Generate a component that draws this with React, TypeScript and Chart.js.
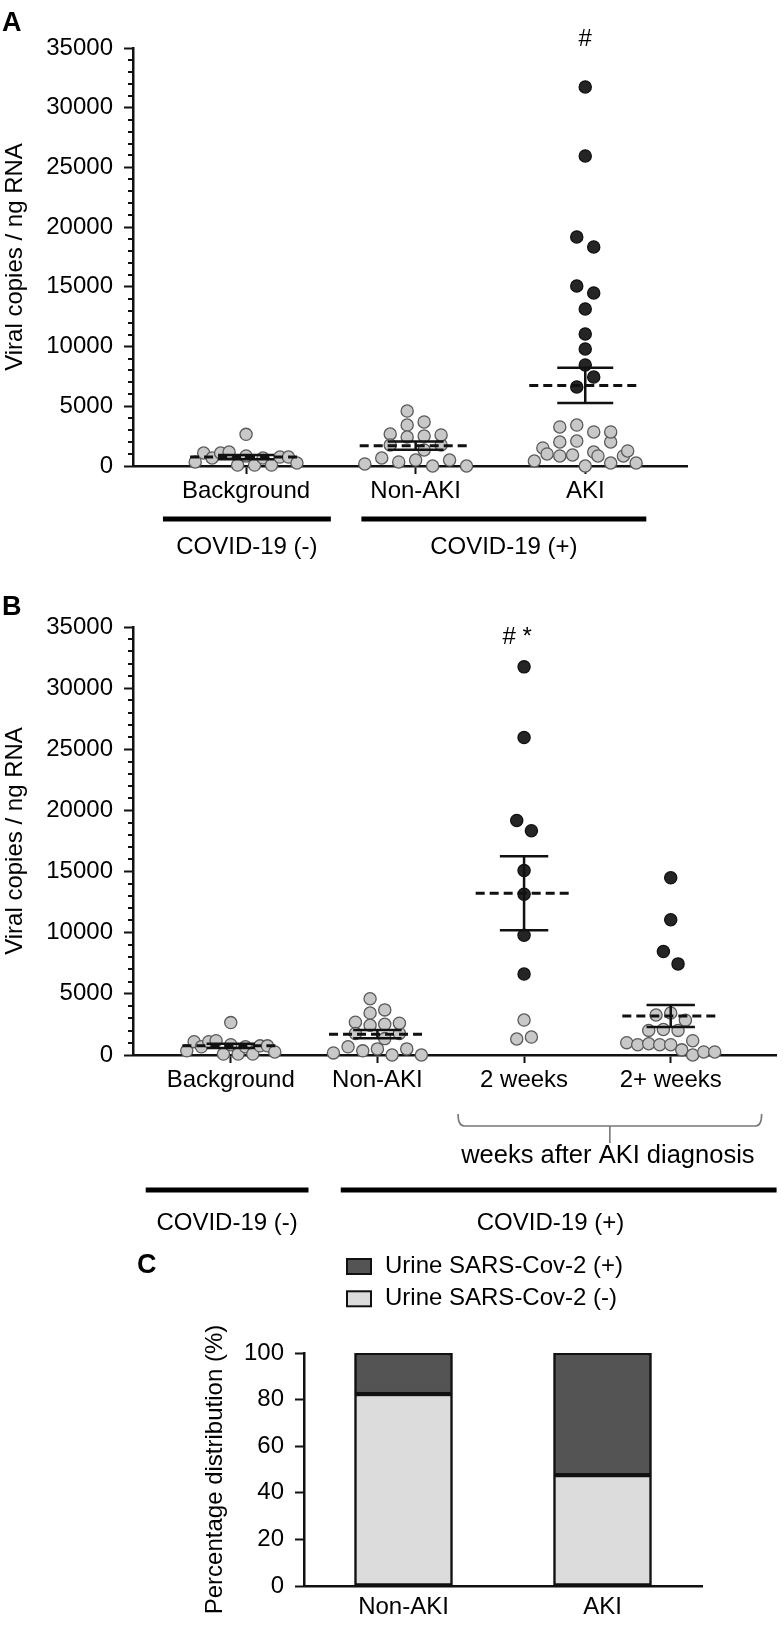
import React, { useEffect, useRef } from 'react';
import { Chart, registerables } from 'chart.js';

Chart.register(...registerables);

// ---------------- data ----------------
// Panel A: viral copies / ng RNA per group (left-to-right order)
const categoriesA = ['Background', 'Non-AKI', 'AKI'];
const backgroundCopies = [340, 1090, 670, 1090, 1170, 80, 2650, 840, 80, 670, 80, 750, 750, 250];
const nonAkiCopies = [2680, 170, 3430, 1760, 670, 4600, 2430, 340, 3690, 2510, 500, 1340, 0, 1760, 500, 2600, 0];
const akiHighCopies = [31740, 25960, 19180, 18340, 15080, 14490, 13150, 11060, 9800, 8460, 6620, 7450];
const akiLowCopies = [1510, 420, 1010, 2010, 840, 3270, 920, 3430, 2090, 1170, 0, 2850, 840, 2010, 250, 2850, 840, 1260, 250];

// Panel B: AKI split by weeks after AKI diagnosis
const categoriesB = ['Background', 'Non-AKI', '2 weeks', '2+ weeks'];
const twoWeeksHighCopies = [31740, 25960, 19180, 18340, 15080, 13150, 9800, 6620];
const twoWeeksLowCopies = [2860, 1310, 1470];
const laterHighCopies = [14490, 11060, 8460, 7450];
const laterLowCopies = [3270, 3430, 2850, 2010, 2090, 2010, 1170, 1010, 840, 920, 840, 840, 420, 0, 250, 250];

// shared viral axis
const viralMax = 35000;
const viralMajorStep = 5000;
const viralMinorStep = 1000;

// Panel C: percentage distribution
const categoriesC = ['Non-AKI', 'AKI'];
const urinePositivePct = [17.6, 52.4];
const urineNegativePct = [82.4, 47.6];
const pctMax = 100;
const pctStep = 20;

// ---------------- styles ----------------
const FONT = '"Liberation Sans", Arial, Helvetica, sans-serif';
const INK = '#111111';
const GREY_FILL = '#c8c8c8';
const GREY_EDGE = '#5a5a5a';
const DARK_FILL = '#252525';
const DARK_EDGE = '#111111';
const BAR_LIGHT = '#dcdcdc';
const BAR_DARK = '#545454';

const COL_STEP = 0.1; // x-units between swarm columns
const HALF_WIDTH = 0.3; // max half width of a swarm row (x-units)
const ROW_PX = 13.5; // vertical size of a swarm row (px)
const MEAN_HALF = 0.33;
const CAP_HALF = 0.165;

const f = (size: number, weight: any = 'normal') => ({ family: FONT, size, weight });

type Series = { label: string; group: number; values: number[]; dark: boolean };

function scatterDatasets(series: Series[]) {
  return series.map((s) => ({
    label: s.label,
    swarmGroup: s.group,
    data: s.values.map((v) => ({ x: s.group, y: v })),
    pointRadius: 6.1,
    pointBorderWidth: 1.3,
    pointBackgroundColor: s.dark ? DARK_FILL : GREY_FILL,
    pointBorderColor: s.dark ? DARK_EDGE : GREY_EDGE,
    backgroundColor: s.dark ? DARK_FILL : GREY_FILL,
    borderColor: s.dark ? DARK_EDGE : GREY_EDGE,
    showLine: false,
    clip: false,
  }));
}

// Prism-like scatter layout: rows by value, points spread symmetrically inside a row
function swarm(chart: any) {
  const y = chart.scales.y;
  const pxPer = Math.abs(y.getPixelForValue(viralMajorStep) - y.getPixelForValue(0)) / viralMajorStep;
  const rowSpan = ROW_PX / pxPer;
  const byGroup = new Map<number, any[]>();
  let order = 0;
  chart.data.datasets.forEach((ds: any) => {
    if (ds.swarmGroup === undefined) return;
    ds.data = ds.data.map((p: any) => ({ x: p.x, y: p.y }));
    ds.data.forEach((p: any) => {
      if (!byGroup.has(ds.swarmGroup)) byGroup.set(ds.swarmGroup, []);
      byGroup.get(ds.swarmGroup)!.push({ p, v: p.y, k: order++ });
    });
  });
  byGroup.forEach((items, g) => {
    const sorted = items.slice().sort((a, b) => a.v - b.v || a.k - b.k);
    const rows: any[][] = [];
    let start = 0;
    sorted.forEach((it) => {
      if (!rows.length || it.v - start > rowSpan) {
        rows.push([]);
        start = it.v;
      }
      rows[rows.length - 1].push(it);
    });
    rows.forEach((row) => {
      row.sort((a, b) => a.k - b.k);
      const n = row.length;
      const step = n > 1 ? Math.min(COL_STEP, (2 * HALF_WIDTH) / (n - 1)) : 0;
      row.forEach((it, j) => {
        it.p.x = g + (j - (n - 1) / 2) * step;
      });
    });
  });
}

const meanSemPlugin = {
  id: 'meanSem',
  afterDatasetsDraw(chart: any) {
    const { ctx } = chart;
    const x = chart.scales.x;
    const y = chart.scales.y;
    const groups = new Map<number, number[]>();
    chart.data.datasets.forEach((ds: any) => {
      if (ds.swarmGroup === undefined) return;
      if (!groups.has(ds.swarmGroup)) groups.set(ds.swarmGroup, []);
      ds.data.forEach((p: any) => groups.get(ds.swarmGroup)!.push(p.y));
    });
    groups.forEach((vals, g) => {
      const n = vals.length;
      const mean = vals.reduce((a, b) => a + b, 0) / n;
      const sd = Math.sqrt(vals.reduce((a, b) => a + (b - mean) * (b - mean), 0) / (n - 1));
      const sem = sd / Math.sqrt(n);
      const cx = x.getPixelForValue(g);
      const yHi = y.getPixelForValue(mean + sem);
      const yLo = y.getPixelForValue(mean - sem);
      const yM = y.getPixelForValue(mean);
      ctx.save();
      ctx.strokeStyle = INK;
      ctx.lineWidth = 2.5;
      ctx.beginPath();
      ctx.moveTo(cx, yHi);
      ctx.lineTo(cx, yLo);
      ctx.moveTo(x.getPixelForValue(g - CAP_HALF), yHi);
      ctx.lineTo(x.getPixelForValue(g + CAP_HALF), yHi);
      ctx.moveTo(x.getPixelForValue(g - CAP_HALF), yLo);
      ctx.lineTo(x.getPixelForValue(g + CAP_HALF), yLo);
      ctx.stroke();
      ctx.lineWidth = 3;
      ctx.setLineDash([9, 5]);
      ctx.beginPath();
      ctx.moveTo(x.getPixelForValue(g - MEAN_HALF), yM);
      ctx.lineTo(x.getPixelForValue(g + MEAN_HALF), yM);
      ctx.stroke();
      ctx.restore();
    });
  },
};

const minorTicksPlugin = {
  id: 'minorTicks',
  afterDraw(chart: any) {
    const { ctx } = chart;
    const y = chart.scales.y;
    ctx.save();
    ctx.strokeStyle = INK;
    ctx.lineWidth = 2;
    ctx.beginPath();
    for (let v = viralMinorStep; v < viralMax; v += viralMinorStep) {
      if (v % viralMajorStep === 0) continue;
      const py = Math.round(y.getPixelForValue(v));
      ctx.moveTo(y.right - 5, py);
      ctx.lineTo(y.right, py);
    }
    ctx.stroke();
    ctx.restore();
  },
};

function drawGroupBar(ctx: any, x: any, from: number, to: number, y: number, label: string, labelY: number, labelAt?: number) {
  const x0 = x.getPixelForValue(from);
  const x1 = x.getPixelForValue(to);
  ctx.save();
  ctx.strokeStyle = '#000';
  ctx.lineWidth = 5;
  ctx.beginPath();
  ctx.moveTo(x0, y);
  ctx.lineTo(x1, y);
  ctx.stroke();
  ctx.fillStyle = '#000';
  ctx.font = `24px ${FONT}`;
  ctx.textAlign = 'center';
  ctx.textBaseline = 'middle';
  const lx = labelAt !== undefined ? x.getPixelForValue(labelAt) : (x0 + x1) / 2;
  ctx.fillText(label, lx, labelY);
  ctx.restore();
}

function panelLetter(ctx: any, letter: string, px: number, baseline: number) {
  ctx.save();
  ctx.fillStyle = '#000';
  ctx.font = `bold 27px ${FONT}`;
  ctx.textAlign = 'left';
  ctx.textBaseline = 'alphabetic';
  ctx.fillText(letter, px, baseline);
  ctx.restore();
}

const panelAExtras = {
  id: 'panelAExtras',
  afterDraw(chart: any) {
    const { ctx, chartArea } = chart;
    const x = chart.scales.x;
    panelLetter(ctx, 'A', 2, 31);
    ctx.save();
    ctx.fillStyle = '#000';
    ctx.font = `24px ${FONT}`;
    ctx.textAlign = 'center';
    ctx.textBaseline = 'middle';
    ctx.fillText('#', x.getPixelForValue(3), chartArea.top - 9);
    ctx.restore();
    drawGroupBar(ctx, x, 0.51, 1.5, 519, 'COVID-19 (-)', 547);
    drawGroupBar(ctx, x, 1.68, 3.36, 519, 'COVID-19 (+)', 547);
  },
};

const panelBExtras = {
  id: 'panelBExtras',
  afterDraw(chart: any) {
    const { ctx, chartArea } = chart;
    const x = chart.scales.x;
    panelLetter(ctx, 'B', 2, 35);
    ctx.save();
    ctx.fillStyle = '#000';
    ctx.font = `24px ${FONT}`;
    ctx.textAlign = 'center';
    ctx.textBaseline = 'middle';
    ctx.fillText('# *', x.getPixelForValue(3) - 7, chartArea.top + 10);
    // bracket under the two AKI sub-groups
    const bl = x.getPixelForValue(2.55);
    const br = x.getPixelForValue(4.62);
    const bc = (bl + br) / 2;
    const top = 534;
    const hy = 546;
    ctx.strokeStyle = '#777';
    ctx.lineWidth = 1.6;
    ctx.beginPath();
    ctx.moveTo(bl, top);
    ctx.quadraticCurveTo(bl, hy, bl + 6, hy);
    ctx.lineTo(br - 6, hy);
    ctx.quadraticCurveTo(br, hy, br, top);
    ctx.moveTo(bc, hy);
    ctx.lineTo(bc, 563);
    ctx.stroke();
    ctx.font = `25.5px ${FONT}`;
    ctx.fillText('weeks after AKI diagnosis', bc - 2, 576);
    ctx.restore();
    drawGroupBar(ctx, x, 0.42, 1.53, 610, 'COVID-19 (-)', 643);
    drawGroupBar(ctx, x, 1.75, 4.722, 610, 'COVID-19 (+)', 643, 3.18);
  },
};

const panelCExtras = {
  id: 'panelCExtras',
  afterDraw(chart: any) {
    const { ctx } = chart;
    panelLetter(ctx, 'C', 137, 33);
    const items = chart.data.datasets.slice().reverse();
    const rows = [26.5, 58.8];
    ctx.save();
    items.forEach((ds: any, i: number) => {
      const cy = rows[i];
      ctx.fillStyle = ds.backgroundColor;
      ctx.fillRect(347, cy - 7.5, 24, 15);
      ctx.strokeStyle = INK;
      ctx.lineWidth = 2;
      ctx.strokeRect(347, cy - 7.5, 24, 15);
      ctx.fillStyle = '#000';
      ctx.font = `24px ${FONT}`;
      ctx.textAlign = 'left';
      ctx.textBaseline = 'middle';
      ctx.fillText(ds.label, 385, cy);
    });
    ctx.restore();
  },
};

function viralConfig(opts: {
  series: Series[];
  categories: string[];
  xMax: number;
  padTop: number;
  padRight: number;
  padBottom: number;
  xHeight: number;
  labelPad: number;
  extras: any;
}) {
  const { series, categories, xMax, padTop, padRight, padBottom, xHeight, labelPad, extras } = opts;
  return {
    type: 'scatter',
    data: { datasets: scatterDatasets(series) },
    options: {
      responsive: false,
      animation: false,
      events: [],
      layout: { padding: { left: 0, top: padTop, right: padRight, bottom: padBottom } },
      plugins: { legend: { display: false }, tooltip: { enabled: false } },
      scales: {
        x: {
          type: 'linear',
          min: 1 / 3,
          max: xMax,
          afterFit: (s: any) => {
            s.height = xHeight;
          },
          afterBuildTicks: (s: any) => {
            s.ticks = categories.map((_, i) => ({ value: i + 1 }));
          },
          ticks: {
            callback: (v: any) => categories[Math.round(v) - 1] ?? '',
            autoSkip: false,
            maxRotation: 0,
            minRotation: 0,
            padding: labelPad,
            font: f(24),
            color: '#000',
          },
          grid: { drawOnChartArea: false, drawTicks: true, tickLength: 8, tickWidth: 2, tickColor: INK },
          border: { display: true, color: INK, width: 2.5 },
        },
        y: {
          min: 0,
          max: viralMax,
          afterFit: (s: any) => {
            s.width = 133;
          },
          ticks: {
            stepSize: viralMajorStep,
            callback: (v: any) => String(v),
            padding: 11,
            font: f(24),
            color: '#000',
          },
          grid: { drawOnChartArea: false, drawTicks: true, tickLength: 9, tickWidth: 2, tickColor: INK },
          border: { display: true, color: INK, width: 2.5 },
          title: {
            display: true,
            text: 'Viral copies / ng RNA',
            font: f(24),
            color: '#000',
            padding: { top: 1, bottom: 0 },
          },
        },
      },
    },
    plugins: [meanSemPlugin, minorTicksPlugin, extras],
  };
}

export default function App() {
  const aRef = useRef<HTMLCanvasElement>(null);
  const bRef = useRef<HTMLCanvasElement>(null);
  const cRef = useRef<HTMLCanvasElement>(null);

  useEffect(() => {
    const chartA = new Chart(
      aRef.current as any,
      viralConfig({
        series: [
          { label: 'Background', group: 1, values: backgroundCopies, dark: false },
          { label: 'Non-AKI', group: 2, values: nonAkiCopies, dark: false },
          { label: 'AKI (high)', group: 3, values: akiHighCopies, dark: true },
          { label: 'AKI (low)', group: 3, values: akiLowCopies, dark: false },
        ],
        categories: categoriesA,
        xMax: 3.6,
        padTop: 48,
        padRight: 97,
        padBottom: 14,
        xHeight: 100,
        labelPad: 3,
        extras: panelAExtras,
      }) as any
    );
    swarm(chartA);
    chartA.update();

    const chartB = new Chart(
      bRef.current as any,
      viralConfig({
        series: [
          { label: 'Background', group: 1, values: backgroundCopies, dark: false },
          { label: 'Non-AKI', group: 2, values: nonAkiCopies, dark: false },
          { label: '2 weeks (high)', group: 3, values: twoWeeksHighCopies, dark: true },
          { label: '2 weeks (low)', group: 3, values: twoWeeksLowCopies, dark: false },
          { label: '2+ weeks (high)', group: 4, values: laterHighCopies, dark: true },
          { label: '2+ weeks (low)', group: 4, values: laterLowCopies, dark: false },
        ],
        categories: categoriesB,
        xMax: 4.722,
        padTop: 47,
        padRight: 1,
        padBottom: 35,
        xHeight: 150,
        labelPad: 3,
        extras: panelBExtras,
      }) as any
    );
    swarm(chartB);
    chartB.update();

    const chartC = new Chart(cRef.current as any, {
      type: 'bar',
      data: {
        labels: categoriesC,
        datasets: [
          {
            label: 'Urine SARS-Cov-2 (-)',
            data: urineNegativePct,
            backgroundColor: BAR_LIGHT,
            borderColor: INK,
            borderWidth: 2.5,
            borderSkipped: false,
            barThickness: 98,
          },
          {
            label: 'Urine SARS-Cov-2 (+)',
            data: urinePositivePct,
            backgroundColor: BAR_DARK,
            borderColor: INK,
            borderWidth: 2.5,
            borderSkipped: false,
            barThickness: 98,
          },
        ],
      },
      options: {
        responsive: false,
        animation: false,
        events: [],
        layout: { padding: { left: 0, top: 113, right: 82, bottom: 0 } },
        plugins: { legend: { display: false }, tooltip: { enabled: false } },
        scales: {
          x: {
            stacked: true,
            offset: true,
            afterFit: (s: any) => {
              s.height = 40;
            },
            grid: { drawOnChartArea: false, drawTicks: false },
            border: { display: true, color: INK, width: 2.5 },
            ticks: { font: f(24), color: '#000', padding: 6.6 },
          },
          y: {
            stacked: true,
            min: 0,
            max: pctMax,
            afterFit: (s: any) => {
              s.width = 304;
            },
            ticks: { stepSize: pctStep, padding: 11, font: f(24), color: '#000', callback: (v: any) => String(v) },
            grid: { drawOnChartArea: false, drawTicks: true, tickLength: 9, tickWidth: 2, tickColor: INK },
            border: { display: true, color: INK, width: 2.5 },
            title: {
              display: true,
              text: 'Percentage distribution (%)',
              font: f(24),
              color: '#000',
              padding: { top: 200.6, bottom: 0 },
            },
          },
        },
      },
      plugins: [panelCExtras],
    } as any);

    return () => {
      chartA.destroy();
      chartB.destroy();
      chartC.destroy();
    };
  }, []);

  return (
    <div style={{ position: 'absolute', left: 0, top: 0, width: 784, height: 1626, background: '#fff' }}>
      <canvas ref={aRef} width={784} height={580} style={{ position: 'absolute', left: 0, top: 0 }} />
      <canvas ref={bRef} width={784} height={660} style={{ position: 'absolute', left: 0, top: 580 }} />
      <canvas ref={cRef} width={784} height={386} style={{ position: 'absolute', left: 0, top: 1240 }} />
    </div>
  );
}
